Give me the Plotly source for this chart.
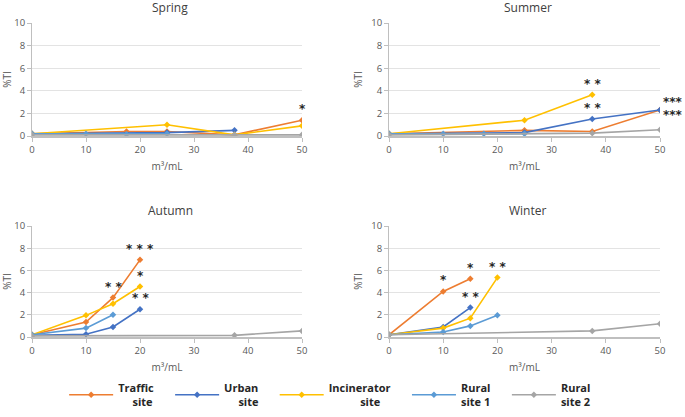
import plotly.graph_objects as go

# ---- data ----
pad = "&nbsp;"
site_names = ["Traffic" + pad * 4 + "<br>" + pad * 5 + "site",
              "Urban" + pad * 4 + "<br>" + pad * 5 + "site",
              "Incinerator" + pad * 4 + "<br>" + pad * 11 + "site",
              "Rural" + pad * 4 + "<br>site 1",
              "Rural" + pad * 4 + "<br>site 2"]
site_colors = ["#ED7D31", "#4472C4", "#FFC000", "#5B9BD5", "#A5A5A5"]
seasons = ["Spring", "Summer", "Autumn", "Winter"]

# per season: x lists and y lists, one per site (traffic, urban, incinerator, rural1, rural2)
spring_x = [[0, 17.5, 25, 37.5, 50], [0, 25, 37.5], [0, 25, 37.5, 50], [0, 10, 17.5, 25], [0, 37.5, 50]]
spring_y = [[0.2, 0.4, 0.4, 0.1, 1.4], [0.2, 0.3, 0.5], [0.2, 1.0, 0.1, 0.9], [0.2, 0.2, 0.15, 0.2], [0.1, 0.1, 0.1]]

summer_x = [[0, 25, 37.5, 50], [0, 25, 37.5, 50], [0, 25, 37.5], [0, 10, 17.5, 25], [0, 37.5, 50]]
summer_y = [[0.2, 0.5, 0.4, 2.3], [0.2, 0.3, 1.5, 2.3], [0.2, 1.4, 3.65], [0.2, 0.2, 0.2, 0.2], [0.1, 0.25, 0.55]]

autumn_x = [[0, 10, 15, 20], [0, 10, 15, 20], [0, 10, 15, 20], [0, 10, 15], [0, 37.5, 50]]
autumn_y = [[0.2, 1.35, 3.55, 6.95], [0.15, 0.25, 0.9, 2.5], [0.2, 1.95, 3.0, 4.55], [0.2, 0.8, 2.0], [0.1, 0.15, 0.55]]

winter_x = [[0, 10, 15], [0, 10, 15], [0, 10, 15, 20], [0, 10, 15, 20], [0, 37.5, 50]]
winter_y = [[0.2, 4.1, 5.25], [0.2, 0.9, 2.65], [0.2, 0.8, 1.7, 5.35], [0.2, 0.45, 1.0, 1.95], [0.2, 0.55, 1.2]]

# significance stars: (x, y, text, xshift, yshift)
spring_stars = [(50, 1.4, "*", 0, 11)]
summer_stars = [(37.5, 3.65, "* *", 0, 11), (37.5, 1.5, "* *", 0, 11),
                (50, 2.3, "***", 13, 8), (50, 2.3, "***", 13, -5)]
autumn_stars = [(20, 6.95, "* * *", 0, 11), (15, 3.55, "* *", 0, 11),
                (20, 4.55, "*", 0, 11), (20, 2.5, "* *", 0, 11)]
winter_stars = [(10, 4.1, "*", 0, 11), (15, 5.25, "*", 0, 11),
                (15, 2.65, "* *", 0, 11), (20, 5.35, "* *", 0, 11)]

x_ticks = [0, 10, 20, 30, 40, 50]
y_ticks = [0, 2, 4, 6, 8, 10]

season_x = [spring_x, summer_x, autumn_x, winter_x]
season_y = [spring_y, summer_y, autumn_y, winter_y]
season_stars = [spring_stars, summer_stars, autumn_stars, winter_stars]

# ---- layout geometry ----
W, H = 685, 417
x_domains = [(32 / W, 302 / W), (389 / W, 660 / W)]
y_domains = [(1 - 136 / H, 1 - 23 / H), (1 - 337 / H, 1 - 226 / H)]
title_y = [1 - 8 / H, 1 - 211 / H]

fig = go.Figure()
font_fam = "Open Sans, Liberation Sans, Arial"
axis_font = dict(family=font_fam, size=9.5, color="#595959")

annotations = []
for i, season in enumerate(seasons):
    row, col = divmod(i, 2)
    xa = "x" if i == 0 else f"x{i+1}"
    ya = "y" if i == 0 else f"y{i+1}"
    for s in range(5):
        fig.add_trace(go.Scatter(
            x=season_x[i][s], y=season_y[i][s], mode="lines+markers",
            name="<b>" + site_names[s] + "</b>",
            line=dict(color=site_colors[s], width=1.6),
            marker=dict(symbol="diamond", size=5, color=site_colors[s]),
            xaxis=xa, yaxis=ya, showlegend=(i == 0), legendgroup=str(s),
        ))
    xkey = "xaxis" if i == 0 else f"xaxis{i+1}"
    ykey = "yaxis" if i == 0 else f"yaxis{i+1}"
    fig.layout[xkey] = dict(
        domain=x_domains[col], anchor=ya, range=[0, 50], tickvals=x_ticks,
        showgrid=False, showline=True, linecolor="#BFBFBF", linewidth=1.5,
        ticks="outside", ticklen=4, tickcolor="#BFBFBF", tickfont=axis_font,
        zeroline=False, automargin=False,
        title=dict(text="m³/mL", font=dict(family=font_fam, size=10, color="#595959"), standoff=8),
    )
    fig.layout[ykey] = dict(
        domain=y_domains[row], anchor=xa, range=[0, 10], tickvals=y_ticks,
        showgrid=True, gridcolor="#E3E3E3", gridwidth=1,
        showline=True, linecolor="#BFBFBF", linewidth=1,
        ticks="outside", ticklen=4, tickcolor="#BFBFBF", tickfont=axis_font,
        zeroline=False, automargin=False,
        title=dict(text="%TI", font=dict(family=font_fam, size=10, color="#595959"), standoff=6),
    )
    # panel title
    annotations.append(dict(
        text=season, xref="paper", yref="paper",
        x=(x_domains[col][0] + x_domains[col][1]) / 2 + 0.005, y=title_y[row],
        xanchor="center", yanchor="middle", showarrow=False,
        font=dict(family=font_fam, size=12, color="#404040"),
    ))
    for (sx, sy, st, dx, dy) in season_stars[i]:
        annotations.append(dict(
            text="<b>" + st + "</b>", x=sx, y=sy, xref=xa, yref=ya, showarrow=False,
            xshift=dx, yshift=dy, font=dict(family="DejaVu Sans", size=12, color="#262626"),
        ))

fig.update_layout(
    width=W, height=H, margin=dict(l=0, r=0, t=0, b=0, autoexpand=False),
    paper_bgcolor="white", plot_bgcolor="white",
    annotations=annotations,
    legend=dict(
        orientation="h", x=0.49, xanchor="center", y=0.053, yanchor="middle",
        font=dict(family=font_fam, size=11, color="#262626"),
        itemwidth=44, traceorder="normal",
    ),
    showlegend=True,
)

fig.write_html("out.html", config={"displayModeBar": False},
               post_script="document.body.style.margin='0px';document.body.style.overflow='hidden';")
